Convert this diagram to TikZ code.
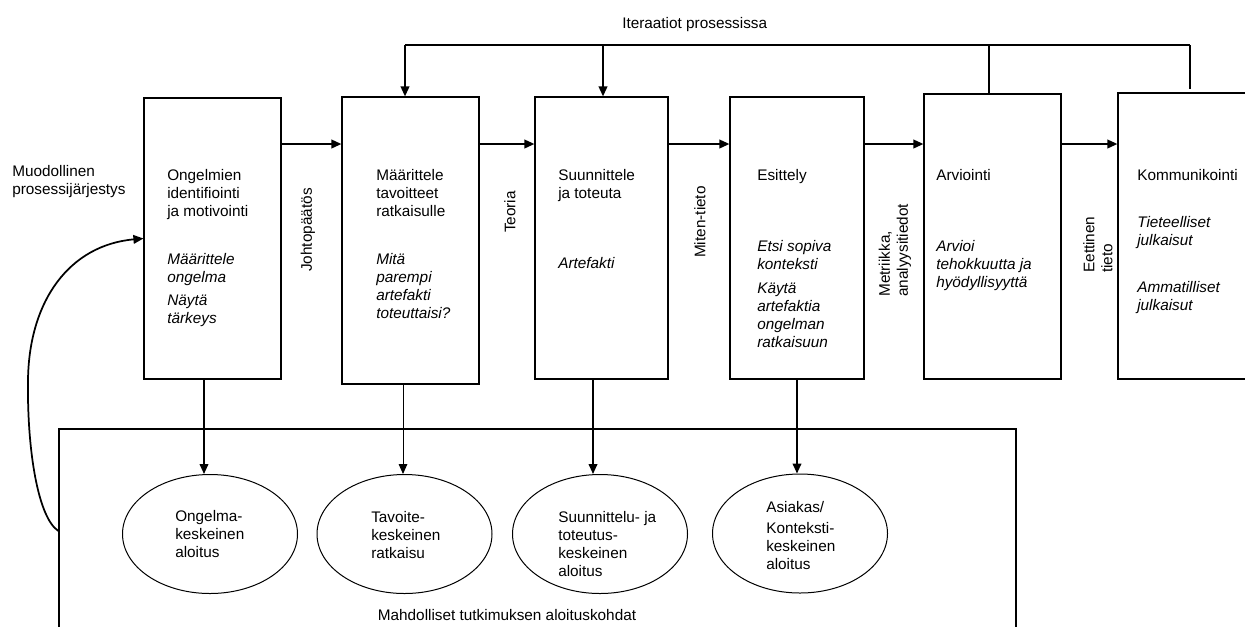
\documentclass[tikz,border=0pt]{standalone}
\usepackage{fontspec}
\setmainfont{Liberation Sans}
\usetikzlibrary{arrows.meta,fit,shapes.geometric}
\begin{document}
\begin{tikzpicture}[x=0.75pt,y=-0.75pt,
  every node/.style={font=\fontsize{11.5pt}{13.5pt}\selectfont, inner sep=0pt},
  stage/.style={draw, line width=0.9pt, inner sep=0pt},
  frame/.style={draw, line width=0.8pt, inner sep=0pt},
  start/.style={draw, ellipse, line width=0.75pt, minimum width=131.25pt, minimum height=89.25pt},
  % multi-line texts are placed by the baseline of their last line
  txt/.style={anchor=base west, align=left},
  itx/.style={txt, font=\fontsize{11.5pt}{13.5pt}\selectfont\itshape},
  side/.style={rotate=90},
  plain/.style={line width=0.8pt},
  arr/.style={line width=1.3pt, -{Triangle[length=7.5pt,width=6.5pt]}},
  thinarr/.style={line width=0.75pt, -{Triangle[length=7.5pt,width=6.5pt]}}
]
\useasboundingbox (0,0) rectangle (1245,626);

% process stages
\node[stage, fit={(144,98) (281,379)}] (b1) {};
\node[stage, fit={(342,97) (479,384)}] (b2) {};
\node[stage, fit={(535,97) (668,379)}] (b3) {};
\node[stage, fit={(730,97) (864,379)}] (b4) {};
\node[stage, fit={(924,94) (1061,379)}] (b5) {};
\node[stage, fit={(1118,93) (1262,379)}] (b6) {};

% stage texts
\node[txt] (t1) at (167,216) {Ongelmien\\identifiointi\\ja motivointi};
\node[itx] (i1) at (167,323) {Määrittele\\ongelma\\[3.75pt]Näytä\\tärkeys};
\node[txt] (t2) at (376,216) {Määrittele\\tavoitteet\\ratkaisulle};
\node[itx] (i2) at (376,318) {Mitä\\parempi\\artefakti\\toteuttaisi?};
\node[txt] (t3) at (558,198) {Suunnittele\\ja toteuta};
\node[itx] (i3) at (558,268) {Artefakti};
\node[txt] (t4) at (757,180) {Esittely};
\node[itx] (i4) at (757,347) {Etsi sopiva\\konteksti\\[4.5pt]Käytä\\artefaktia\\ongelman\\ratkaisuun};
\node[txt] (t5) at (936,180) {Arviointi};
\node[itx] (i5) at (936,287) {Arvioi\\tehokkuutta ja\\hyödyllisyyttä};
\node[txt] (t6) at (1137,180) {Kommunikointi};
\node[itx] (i6) at (1137,310) {Tieteelliset\\julkaisut\\[21.75pt]Ammatilliset\\julkaisut};

% flow between stages
\coordinate (hy) at (0,144);
\draw[arr] (b1.east |- hy) -- (b2.west |- hy);
\draw[arr] (b2.east |- hy) -- (b3.west |- hy);
\draw[arr] (b3.east |- hy) -- (b4.west |- hy);
\draw[arr] (b4.east |- hy) -- (b5.west |- hy);
\draw[arr] (b5.east |- hy) -- (b6.west |- hy);

\node[side] (l1) at (308,230) {Johtopäätös};
\node[side] (l2) at (510,212) {Teoria};
\node[side] (l3) at (700,222) {Miten-tieto};
\node[side, anchor=west, align=left] (l4) at (895,297) {Metriikka,\\analyysitiedot};
\node[side, anchor=west, align=left] (l5) at (1098,273) {Eettinen\\tieto};

% iteration loop
\node[txt] (ip) at (622,28) {Iteraatiot prosessissa};
\coordinate (itl) at (405,45);
\coordinate (it3) at (603,45);
\coordinate (it5) at (989,45);
\coordinate (itr) at (1190,45);
\coordinate (it6) at (1190,89);
\draw[plain] (itl) -- (itr);
\draw[arr] (itl) -- (b2.north -| itl);
\draw[arr] (it3) -- (b3.north -| it3);
\draw[plain] (it5) -- (b5.north -| it5);
\draw[plain] (itr) -- (it6);

% entry points
\node[frame, fit={(59,429) (1016,633)}] (outer) {};
\node[start] (e1) at (210,534) {};
\node[start] (e2) at (404.5,534) {};
\node[start] (e3) at (600,534) {};
\node[start] (e4) at (800,533.5) {};
\node[txt] (et1) at (175,557) {Ongelma-\\keskeinen\\aloitus};
\node[txt] (et2) at (371,558) {Tavoite-\\keskeinen\\ratkaisu};
\node[txt] (et3) at (558,576) {Suunnittelu- ja\\toteutus-\\keskeinen\\aloitus};
\node[txt] (et4) at (766,569) {Asiakas/\\[2.25pt]Konteksti-\\keskeinen\\aloitus};
\node[anchor=base] (ma) at (507,620) {Mahdolliset tutkimuksen aloituskohdat};

\coordinate (d1) at (204,0);
\coordinate (d2) at (403,0);
\coordinate (d3) at (593,0);
\coordinate (d4) at (797,0);
\draw[arr] (b1.south -| d1) -- (e1.north -| d1);
\draw[thinarr] (b2.south -| d2) -- (e2.north -| d2);
\draw[arr] (b3.south -| d3) -- (e3.north -| d3);
\draw[arr] (b4.south -| d4) -- (e4.north -| d4);

% formal process order
\node[txt] (mp) at (12,194) {Muodollinen\\prosessijärjestys};
\draw[arr] (outer.west) .. controls (38,518) and (27,450) .. (28,380)
  .. controls (29,300) and (70,245) .. (b1.west);
\end{tikzpicture}
\end{document}
